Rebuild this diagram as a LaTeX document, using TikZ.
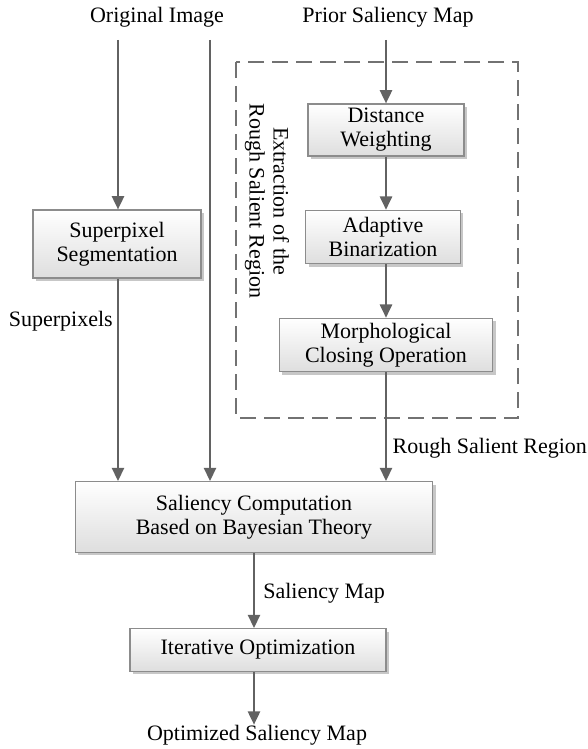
\documentclass[tikz,border=0pt]{standalone}
\usepackage{fontspec}
\setmainfont{Liberation Serif}
\usepackage{tikz}
\usetikzlibrary{arrows.meta,positioning,shadows,calc}
\usepackage{xcolor}
\definecolor{linegray}{RGB}{98,98,98}
\definecolor{boxline} {RGB}{140,140,140}
\definecolor{boxlow}  {RGB}{222,222,222}

\begin{document}
\begin{tikzpicture}[x=0.75pt,y=-0.75pt,>={Triangle[width=9pt,length=10pt]},
    font=\fontsize{16.5}{18}\selectfont,
    procbox/.style={draw=boxline,line width=0.8pt,top color=white,bottom color=boxlow,
      align=center,inner sep=2pt,
      drop shadow={shadow xshift=2.2pt,shadow yshift=-2.2pt,fill=black!22,opacity=1}},
    flow/.style={->,line width=1.9pt,linegray},
    txt/.style={inner sep=0pt,align=center,text=black}]
        \useasboundingbox (0,0) rectangle (588,749);
        % inputs
        \node[txt] (oi) at (157,17) {Original Image};
        \node[txt] (psm) at (388,17) {Prior Saliency Map};
        \coordinate (oiL) at (118,40);
        \coordinate (oiR) at (210,40);
        \coordinate (psmB) at (386,40);
        % dashed group
        \draw[linegray!90,line width=1.5pt,dash pattern=on 12pt off 6pt] (236,62) rectangle (518,418);
        \node[txt,rotate=-90] (grp) at (267,201) {Extraction of the\\Rough Salient Region};
        % boxes
        \node[procbox,minimum width=126pt,minimum height=51pt] (sp) at (117,244)
          {Superpixel\\Segmentation};
        \node[procbox,minimum width=117pt,minimum height=39pt] (dw) at (386,130)
          {Distance\\Weighting};
        \node[procbox,minimum width=116pt,minimum height=40pt] (ab) at (383,237)
          {Adaptive\\Binarization};
        \node[procbox,minimum width=160pt,minimum height=40pt] (mc) at (386,345)
          {Morphological\\Closing Operation};
        \node[procbox,minimum width=268pt,minimum height=53pt] (sc) at (254,517)
          {Saliency Computation\\Based on Bayesian Theory};
        \node[procbox,minimum width=192pt,minimum height=32pt] (io) at (258,650)
          {Iterative Optimization};
        \node[txt] (osm) at (257,735) {Optimized Saliency Map};
        % connectors
        \draw[flow] (oiL) -- (oiL |- sp.north);
        \draw[flow] (oiR) -- (oiR |- sc.north);
        \draw[flow] (psmB) -- (psmB |- dw.north);
        \draw[flow] (dw.south -| psmB) -- (psmB |- ab.north);
        \draw[flow] (ab.south -| psmB) -- (psmB |- mc.north);
        \draw[flow] (sp.south -| oiL) -- node[txt,pos=0.21,left=3pt] (lsp) {Superpixels} (oiL |- sc.north);
        \draw[flow] (mc.south -| psmB) -- node[txt,pos=0.7,right=4pt] (lrs) {Rough Salient Region} (psmB |- sc.north);
        \draw[flow] (sc.south) -- node[txt,pos=0.53,right=6pt] (lsm) {Saliency Map} (sc.south |- io.north);
        \draw[flow] (sc.south |- io.south) -- (sc.south |- osm.north);
      \end{tikzpicture}
\end{document}
